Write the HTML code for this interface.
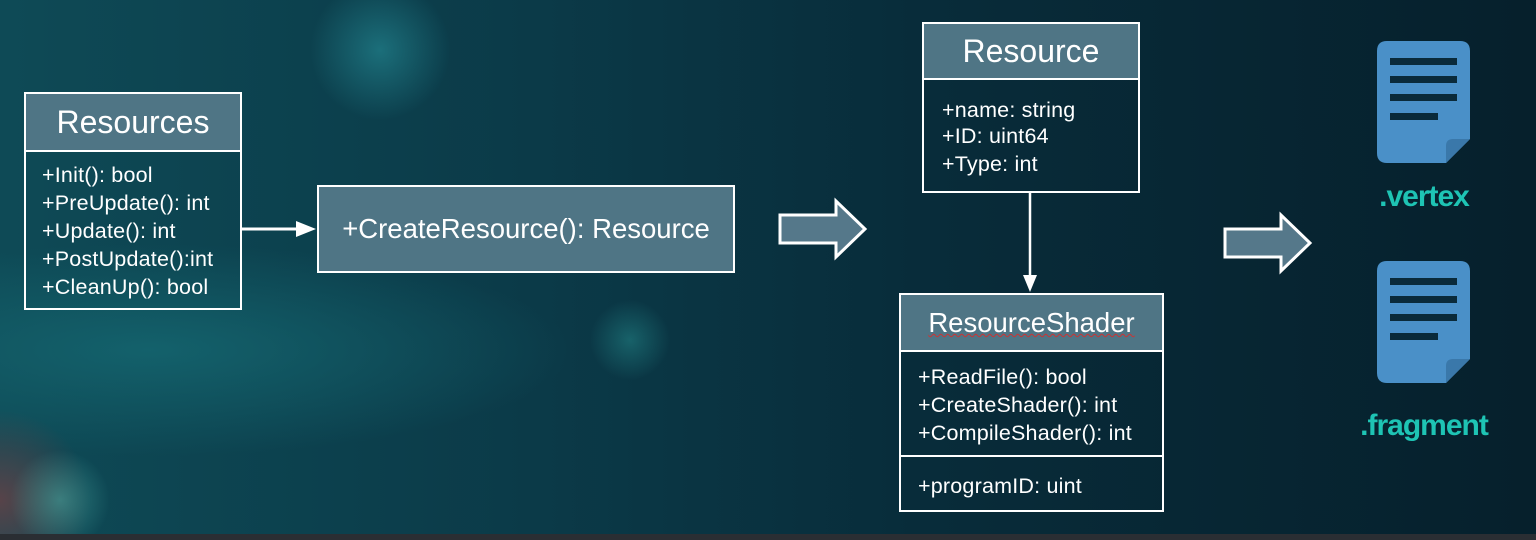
<!DOCTYPE html>
<html><head><style>
body{margin:0;width:1536px;height:540px;overflow:hidden;font-family:"Liberation Sans",sans-serif;}
#bg{position:absolute;left:0;top:0;width:1536px;height:540px;
background:
radial-gradient(circle at 380px 50px,rgba(40,150,160,.55),transparent 70px),
radial-gradient(circle at 630px 340px,rgba(40,150,150,.45),transparent 40px),
radial-gradient(circle at 60px 500px,rgba(80,180,170,.5),transparent 50px),
radial-gradient(circle at 0px 500px,rgba(160,60,60,.5),transparent 90px),
radial-gradient(ellipse at 150px 350px,rgba(20,100,110,.9),transparent 420px),
linear-gradient(90deg,#0e4a56 0%,#0b3a48 35%,#082c3a 60%,#06202c 100%);}
.box{position:absolute;border:2px solid #fff;box-sizing:border-box;color:#fff;}
.hd{background:#4f7585;border-bottom:2px solid #fff;text-align:center;box-sizing:border-box;}
.ln{position:absolute;font-size:21.5px;letter-spacing:0.2px;white-space:nowrap;}
</style></head><body>
<div id="bg"></div>
<div style="position:absolute;left:0;top:534px;width:1536px;height:6px;background:#2a2e33"></div>

<div class="box" style="left:24px;top:92px;width:218px;height:218px;">
 <div class="hd" style="height:58px;line-height:56px;font-size:32px;">Resources</div>
 <div class="ln" style="left:16px;top:69px;">+Init(): bool</div>
 <div class="ln" style="left:16px;top:97px;">+PreUpdate(): int</div>
 <div class="ln" style="left:16px;top:125px;">+Update(): int</div>
 <div class="ln" style="left:16px;top:153px;">+PostUpdate():int</div>
 <div class="ln" style="left:16px;top:181px;">+CleanUp(): bool</div>
</div>

<div class="box" style="left:317px;top:185px;width:418px;height:88px;background:#4f7585;text-align:center;line-height:84px;font-size:27.5px;white-space:nowrap;">+CreateResource(): Resource</div>

<div class="box" style="left:922px;top:22px;width:218px;height:171px;">
 <div class="hd" style="height:56px;line-height:54px;font-size:32px;">Resource</div>
 <div class="ln" style="left:18px;top:74px;">+name: string</div>
 <div class="ln" style="left:18px;top:100px;">+ID: uint64</div>
 <div class="ln" style="left:18px;top:128px;">+Type: int</div>
</div>

<div class="box" style="left:899px;top:293px;width:265px;height:219px;">
 <div class="hd" style="height:57px;line-height:56px;font-size:27.5px;"><span style="text-decoration:underline wavy #c33;text-decoration-thickness:1px;">ResourceShader</span></div>
 <div class="ln" style="left:17px;top:70px;">+ReadFile(): bool</div>
 <div class="ln" style="left:17px;top:98px;">+CreateShader(): int</div>
 <div class="ln" style="left:17px;top:126px;">+CompileShader(): int</div>
 <div style="position:absolute;left:0;top:160px;width:100%;height:2px;background:#fff"></div>
 <div class="ln" style="left:17px;top:179px;">+programID: uint</div>
</div>

<svg width="1536" height="540" style="position:absolute;left:0;top:0">
 <line x1="241" y1="229" x2="300" y2="229" stroke="#fff" stroke-width="3"/>
 <polygon points="296,221 316,229 296,237" fill="#fff"/>
 <line x1="1030" y1="193" x2="1030" y2="278" stroke="#fff" stroke-width="2.5"/>
 <polygon points="1023,275 1030,292 1037,275" fill="#fff"/>
 <polygon points="780,215 836,215 836,201 865,229 836,257 836,243 780,243" fill="#55788a" stroke="#fff" stroke-width="3"/>
 <polygon points="1225,229 1281,229 1281,215 1310,243 1281,271 1281,257 1225,257" fill="#55788a" stroke="#fff" stroke-width="3"/>
 <g id="doc">
  <path d="M1387,41 H1460 Q1470,41 1470,51 V139 L1446,163 H1387 Q1377,163 1377,153 V51 Q1377,41 1387,41 Z" fill="#4a90c8"/>
  <path d="M1446,163 L1446,146 Q1446,139 1453,139 L1470,139 Z" fill="#3a78aa"/>
  <rect x="1390" y="58" width="67" height="7" fill="#0a2a3a"/>
  <rect x="1390" y="76" width="67" height="7" fill="#0a2a3a"/>
  <rect x="1390" y="94" width="67" height="7" fill="#0a2a3a"/>
  <rect x="1390" y="113" width="48" height="7" fill="#0a2a3a"/>
 </g>
 <use href="#doc" transform="translate(0,220)"/>
 <text x="1424" y="206" text-anchor="middle" font-family="Liberation Sans" font-weight="bold" font-size="30" fill="#1ec4b4" letter-spacing="-1">.vertex</text>
 <text x="1424" y="435" text-anchor="middle" font-family="Liberation Sans" font-weight="bold" font-size="30" fill="#1ec4b4" letter-spacing="-1">.fragment</text>
</svg>
</body></html>
